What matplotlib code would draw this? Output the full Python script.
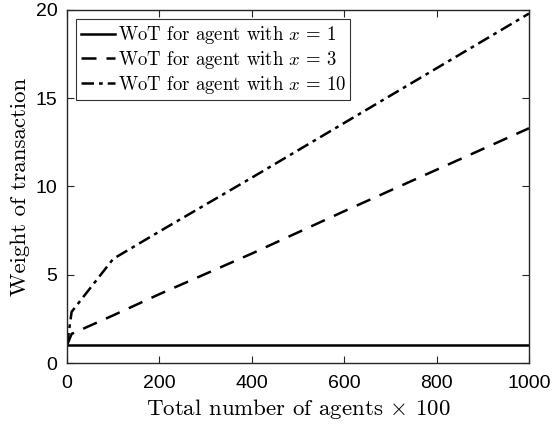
import matplotlib
matplotlib.use("Agg")
import matplotlib.pyplot as plt

# data
agents = [0, 10, 100, 200, 400, 600, 800, 1000]
wot_x1 = [1, 1, 1, 1, 1, 1, 1, 1]
wot_x3 = [1.0, 1.65, 2.7, 3.9, 6.2, 8.6, 10.95, 13.3]
wot_x10 = [1.0, 2.9, 5.9, 7.45, 10.5, 13.6, 16.7, 19.8]

labels = [r"WoT for agent with $x\,=\,1$",
          r"WoT for agent with $x\,=\,3$",
          r"WoT for agent with $x\,=\,10$"]

plt.rcParams["mathtext.fontset"] = "cm"
plt.rcParams["axes.formatter.use_mathtext"] = False

fig = plt.figure(figsize=(5.53, 4.24), dpi=100)
ax = fig.add_axes([67 / 553, 1 - 363 / 424, (529 - 67) / 553, (363 - 10) / 424])

ax.plot(agents, wot_x1, "-", color="black", lw=1.8, label=labels[0])
ax.plot(agents, wot_x3, color="black", lw=1.8, dashes=(6, 4), label=labels[1])
ax.plot(agents, wot_x10, color="black", lw=1.8, dashes=(5, 2, 1.5, 2), label=labels[2])

ax.set_xlim(0, 1000)
ax.set_ylim(0, 20)
ax.set_xticks(range(0, 1001, 200))
ax.set_yticks(range(0, 21, 5))

for lab in ax.get_xticklabels() + ax.get_yticklabels():
    lab.set_fontfamily("Liberation Sans")
    lab.set_fontsize(14)

ax.tick_params(direction="in", top=True, right=True, length=5, width=0.8,
               color="#262626")
ax.tick_params(axis="x", pad=9)
ax.tick_params(axis="y", pad=7)
for s in ax.spines.values():
    s.set_linewidth(1.0)
    s.set_color("#262626")

ax.set_xlabel(r"Total number of agents $\times$ 100", family="cmr10", fontsize=16.5, labelpad=3)
ax.set_ylabel("Weight of transaction", family="cmr10", fontsize=16.5, labelpad=4)

leg = ax.legend(loc="upper left", prop={"family": "cmr10", "size": 13.5},
                frameon=True, fancybox=False, edgecolor="black",
                borderpad=0.25, handlelength=1.8, handletextpad=0.15,
                labelspacing=0.15, borderaxespad=0.5)
leg.get_frame().set_linewidth(0.8)

fig.savefig("out.png", dpi=100)
